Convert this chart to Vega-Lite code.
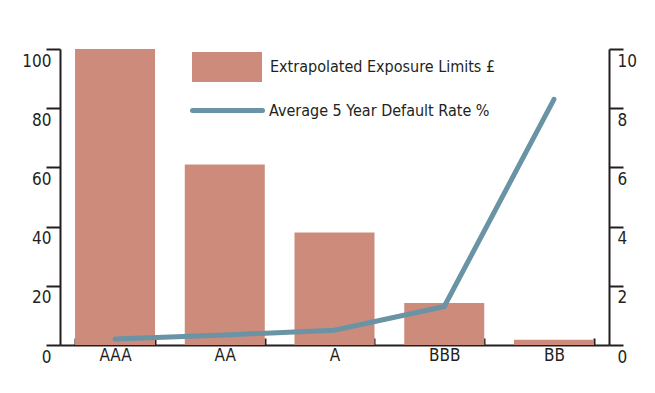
{
  "$schema": "https://vega.github.io/schema/vega-lite/v6.json",
  "width": 549,
  "height": 296,
  "autosize": {"type": "none"},
  "padding": {"left": 60, "top": 49, "right": 46, "bottom": 48},
  "background": "white",
  "config": {
    "view": {"stroke": null},
    "font": "DejaVu Sans Condensed",
    "axis": {
      "domainColor": "#231f20",
      "domainWidth": 2,
      "tickColor": "#231f20",
      "tickWidth": 2,
      "labelColor": "#231f20",
      "labelFont": "DejaVu Sans Condensed",
      "labelFontSize": 17,
      "grid": false,
      "title": null
    }
  },
  "data": {
    "values": [
      {"rating": "AAA", "exposure": 100, "default": 0.2},
      {"rating": "AA", "exposure": 61, "default": 0.34},
      {"rating": "A", "exposure": 38, "default": 0.5},
      {"rating": "BBB", "exposure": 14.2, "default": 1.3},
      {"rating": "BB", "exposure": 1.8, "default": 8.3}
    ]
  },
  "encoding": {
    "x": {
      "field": "rating",
      "type": "nominal",
      "sort": null,
      "scale": {"paddingInner": 0.271, "paddingOuter": 0.137},
      "axis": {
        "orient": "bottom",
        "labelAngle": 0,
        "tickSize": -7,
        "tickBand": "extent",
        "labelPadding": 9
      }
    }
  },
  "layer": [
    {
      "mark": {"type": "bar", "color": "#cd8b7c"},
      "encoding": {
        "y": {
          "field": "exposure",
          "type": "quantitative",
          "scale": {"domain": [0, 100], "nice": false},
          "axis": {
            "orient": "left",
            "values": [0, 20, 40, 60, 80, 100],
            "tickSize": 14,
            "labelPadding": -5,
            "labelOffset": 12
          }
        },
        "fill": {
          "datum": "Extrapolated Exposure Limits £",
          "scale": {"range": ["#cd8b7c"]},
          "legend": {
            "orient": "none",
            "legendX": 132,
            "legendY": -17,
            "title": null,
            "padding": 0,
            "symbolType": "M-1,-0.43H1V0.43H-1Z",
            "symbolSize": 4900,
            "symbolStrokeWidth": 0,
            "symbolOpacity": 1,
            "labelOffset": 8,
            "labelLimit": 400,
            "labelFontSize": 16,
            "labelColor": "#231f20",
            "labelFont": "DejaVu Sans Condensed"
          }
        }
      }
    },
    {
      "mark": {"type": "line", "strokeWidth": 5, "strokeCap": "round"},
      "encoding": {
        "y": {
          "field": "default",
          "type": "quantitative",
          "scale": {"domain": [0, 10], "nice": false},
          "axis": {
            "orient": "right",
            "values": [0, 2, 4, 6, 8, 10],
            "tickSize": 14,
            "labelPadding": -6,
            "labelOffset": 12
          }
        },
        "stroke": {
          "datum": "Average 5 Year Default Rate %",
          "scale": {"range": ["#6a93a5"]},
          "legend": {
            "orient": "none",
            "legendX": 130,
            "legendY": 24,
            "title": null,
            "padding": 0,
            "symbolType": "stroke",
            "symbolSize": 4900,
            "symbolStrokeWidth": 5,
            "labelOffset": 4,
            "labelLimit": 400,
            "labelFontSize": 16,
            "labelColor": "#231f20",
            "labelFont": "DejaVu Sans Condensed",
            "encode": {"symbols": {"update": {"strokeCap": {"value": "round"}}}}
          }
        }
      }
    }
  ],
  "resolve": {"scale": {"y": "independent"}}
}
